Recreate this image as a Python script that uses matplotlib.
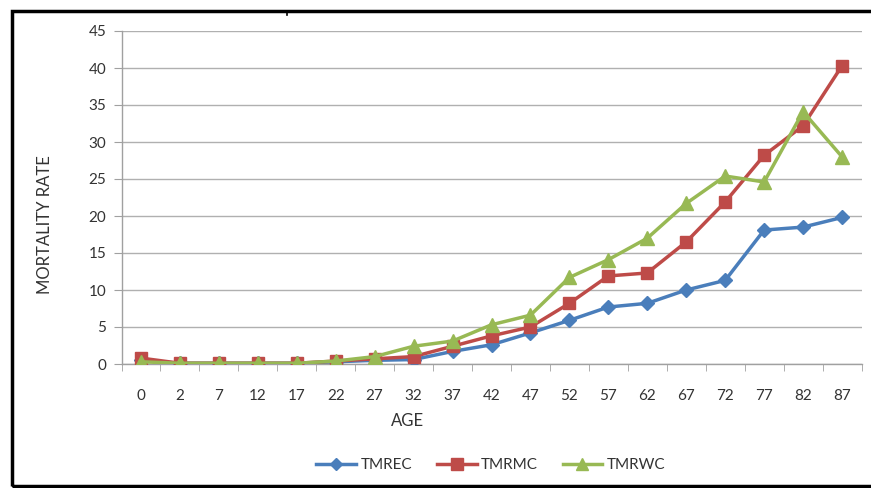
import matplotlib
matplotlib.use("Agg")
import matplotlib.pyplot as plt
from matplotlib.lines import Line2D
from matplotlib.patches import Rectangle

ages = ["0", "2", "7", "12", "17", "22", "27", "32", "37", "42", "47",
        "52", "57", "62", "67", "72", "77", "82", "87"]
tmrec = [0.5, 0.1, 0.1, 0.1, 0.1, 0.3, 0.5, 0.6, 1.7, 2.6, 4.2,
         5.9, 7.7, 8.2, 10.0, 11.3, 18.1, 18.5, 19.8]
tmrmc = [0.8, 0.1, 0.1, 0.1, 0.1, 0.4, 0.7, 1.0, 2.4, 3.8, 5.0,
         8.2, 11.9, 12.3, 16.5, 21.9, 28.2, 32.2, 40.3]
tmrwc = [0.3, 0.1, 0.1, 0.1, 0.1, 0.4, 1.0, 2.4, 3.1, 5.3, 6.6,
         11.7, 14.1, 17.0, 21.7, 25.4, 24.6, 34.1, 28.0]
yticks = [0, 5, 10, 15, 20, 25, 30, 35, 40, 45]

plt.rcParams['font.family'] = ['Lato', 'DejaVu Sans']

W, H = 871, 488
fig = plt.figure(figsize=(W / 100, H / 100), dpi=100)
fig.patch.set_facecolor("white")

left, right, top, bottom = 121.5, 861.5, 31, 364
ax = fig.add_axes([left / W, 1 - bottom / H, (right - left) / W, (bottom - top) / H])

x = list(range(len(ages)))
blue = "#4a7ebb"
red = "#be4b48"
green = "#98b954"
ax.plot(x, tmrec, color=blue, lw=2.5, marker="D", ms=7, mfc=blue, mec=blue, label="TMREC", zorder=3)
ax.plot(x, tmrmc, color=red, lw=2.5, marker="s", ms=9, mfc=red, mec=red, label="TMRMC", zorder=4)
ax.plot(x, tmrwc, color=green, lw=2.5, marker="^", ms=10, mfc=green, mec=green, label="TMRWC", zorder=5)

ax.set_xlim(-0.5, len(ages) - 0.5)
ax.set_ylim(0, 45)
ax.set_yticks(yticks)
ax.set_yticklabels([str(v) for v in yticks])
ax.set_xticks(x)
ax.set_xticklabels(ages)
ax.set_xticks([i - 0.5 for i in range(len(ages) + 1)], minor=True)
ax.tick_params(axis="x", which="major", length=0, pad=18, labelsize=11, labelcolor="#333333")
ax.tick_params(axis="x", which="minor", length=5, color="#a0a0a0", direction="out")
ax.tick_params(axis="y", which="major", length=6, color="#a0a0a0", pad=5, labelsize=11, labelcolor="#333333")

ax.grid(axis="y", color="#b0b0b0", lw=1.0)
ax.set_axisbelow(True)
for s in ["top", "right"]:
    ax.spines[s].set_visible(False)
for s in ["left", "bottom"]:
    ax.spines[s].set_color("#a0a0a0")
    ax.spines[s].set_linewidth(1.0)

fig.text(45 / W, 1 - 225 / H, "MORTALITY RATE", rotation=90, ha="center", va="center",
         fontsize=12, color="#333333")
fig.text(408 / W, 1 - 421 / H, "AGE", ha="center", va="center", fontsize=12, color="#333333")

handles = [
    Line2D([0], [0], color=blue, lw=2.5, marker="D", ms=6, mfc=blue, mec=blue),
    Line2D([0], [0], color=red, lw=2.5, marker="s", ms=8, mfc=red, mec=red),
    Line2D([0], [0], color=green, lw=2.5, marker="^", ms=8, mfc=green, mec=green),
]
fig.legend(handles, ["TMREC", "TMRMC", "TMRWC"], loc="center", bbox_to_anchor=(491 / W, 1 - 465 / H),
           ncol=3, frameon=False, fontsize=11, handlelength=2.6, columnspacing=1.6,
           handletextpad=0.3, labelcolor="#333333")

# outer black frame
fig.add_artist(Rectangle((11.5 / W, 1 - 486 / H), (W + 10 - 11.5) / W, (486 - 10.5) / H,
                         transform=fig.transFigure, fill=False, edgecolor="black", lw=2.5,
                         clip_on=False))
fig.add_artist(Line2D([287 / W, 287 / W], [1 - 11 / H, 1 - 15 / H], transform=fig.transFigure,
                      color="black", lw=1.2))

fig.savefig("out.png", dpi=100, facecolor="white")
